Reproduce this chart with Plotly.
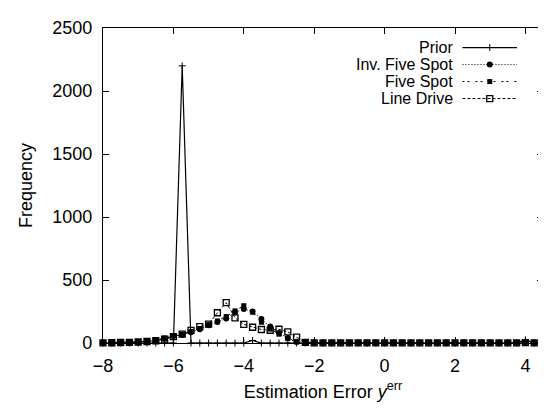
import plotly.graph_objects as go

# bin centres of the estimation error histogram
err = [-8.0, -7.75, -7.5, -7.25, -7.0, -6.75, -6.5, -6.25, -6.0, -5.75,
       -5.5, -5.25, -5.0, -4.75, -4.5, -4.25, -4.0, -3.75, -3.5, -3.25,
       -3.0, -2.75, -2.5, -2.25, -2.0, -1.75, -1.5, -1.25, -1.0, -0.75,
       -0.5, -0.25, 0.0, 0.25, 0.5, 0.75, 1.0, 1.25, 1.5, 1.75,
       2.0, 2.25, 2.5, 2.75, 3.0, 3.25, 3.5, 3.75, 4.0, 4.25, 4.5]

prior = [0, 0, 0, 0, 0, 0, 0, 0, 0, 2200,
         0, 0, 0, 0, 0, 0, 0, 20, 0, 0,
         0, 0, 0, 0, 0, 0, 0, 0, 0, 0,
         0, 0, 0, 0, 0, 0, 0, 0, 0, 0,
         0, 0, 0, 0, 0, 0, 0, 0, 25, 0, 0]

inv_five_spot = [2, 3, 4, 6, 8, 12, 20, 35, 55, 65,
                 85, 110, 140, 166, 195, 244, 270, 250, 190, 130,
                 80, 40, 10, 3, 2, 2, 2, 2, 2, 2,
                 2, 2, 2, 2, 2, 2, 2, 2, 2, 2,
                 2, 2, 2, 2, 2, 2, 2, 2, 10, 2, 2]

five_spot = [2, 3, 5, 6, 9, 13, 22, 38, 58, 70,
             90, 115, 145, 175, 210, 255, 296, 244, 165, 110,
             70, 35, 8, 2, 1, 1, 1, 1, 1, 1,
             1, 1, 1, 1, 1, 1, 1, 1, 1, 1,
             1, 1, 1, 1, 1, 1, 1, 1, 5, 1, 1]

line_drive = [1, 2, 4, 5, 8, 12, 18, 30, 50, 70,
              100, 130, 150, 240, 320, 200, 148, 125, 107, 101,
              109, 88, 47, 5, 1, 1, 1, 1, 1, 1,
              1, 1, 1, 1, 1, 1, 1, 1, 1, 1,
              1, 1, 1, 1, 1, 1, 1, 1, 3, 1, 1]

names = ['Prior', 'Inv. Five Spot', 'Five Spot', 'Line Drive']
series = [prior, inv_five_spot, five_spot, line_drive]

styles = [
    dict(line=dict(color='black', width=1.2),
         marker=dict(symbol='cross-thin', size=5, line=dict(color='black', width=1))),
    dict(line=dict(color='black', width=1, dash='1px,2px'),
         marker=dict(symbol='circle', size=6, color='black')),
    dict(line=dict(color='black', width=1, dash='2px,3px,2px,6px'),
         marker=dict(symbol='square', size=5, color='black')),
    dict(line=dict(color='black', width=1, dash='3px,2px'),
         marker=dict(symbol='square-open', size=6, color='black', line=dict(width=1.3))),
]

FS = 18
LEG_FS = 16

fig = go.Figure()

for name, vals, st in zip(names, series, styles):
    fig.add_trace(go.Scatter(
        x=err, y=vals, mode='lines+markers', name=name,
        line=st['line'], marker=st['marker'],
        showlegend=False, cliponaxis=False
    ))

# hand-made legend (text right aligned, sample on the right, like gnuplot)
leg_y = [0.938, 0.884, 0.830, 0.776]
for name, st, ly in zip(names, styles, leg_y):
    fig.add_trace(go.Scatter(
        x=[0.817, 0.879, 0.941], y=[ly, ly, ly],
        xaxis='x2', yaxis='y2', mode='lines+markers',
        line=st['line'],
        marker=dict(st['marker'], opacity=1),
        selectedpoints=[1], unselected=dict(marker=dict(opacity=0)),
        showlegend=False, hoverinfo='skip'
    ))
    fig.add_annotation(
        x=0.800, y=ly, xref='x2', yref='y2', text=name,
        showarrow=False, xanchor='right', yanchor='middle',
        font=dict(size=LEG_FS, color='black')
    )

axis_common = dict(
    showline=True, linecolor='black', linewidth=1.2, mirror='ticks',
    ticks='inside', ticklen=6, tickcolor='black', showgrid=False,
    zeroline=False, tickfont=dict(size=FS, color='black')
)

fig.update_layout(
    width=546, height=408,
    margin=dict(l=95, r=10, t=14, b=73),
    paper_bgcolor='white', plot_bgcolor='white',
    font=dict(family='Liberation Sans, Arial, sans-serif', color='black'),
    xaxis=dict(axis_common, range=[-8, 4.5], tickvals=[-8, -6, -4, -2, 0, 2, 4],
               ticklabelstandoff=6,
               title=dict(text='Estimation Error <i>y</i><sup>err</sup>',
                          font=dict(size=FS), standoff=10)),
    yaxis=dict(axis_common, range=[0, 2500], tickvals=[0, 500, 1000, 1500, 2000, 2500],
               ticklabelstandoff=6,
               title=dict(text='Frequency', font=dict(size=FS), standoff=14)),
    xaxis2=dict(overlaying='x', range=[0, 1], visible=False),
    yaxis2=dict(overlaying='y', range=[0, 1], visible=False),
    hovermode=False
)

fig.write_html('out.html')
